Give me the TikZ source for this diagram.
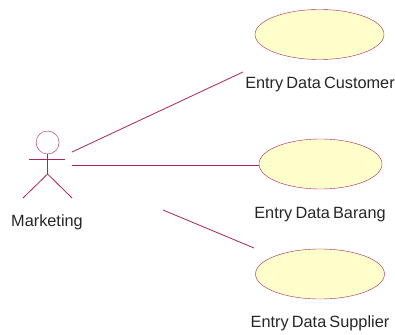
\documentclass[tikz,border=0pt]{standalone}
\usepackage{fontspec}
\setmainfont[WordSpace=0.7]{Liberation Sans}
\definecolor{umlline}{RGB}{170,35,85}
\definecolor{umlfill}{RGB}{255,255,204}
\tikzset{
usecase/.style={ellipse, draw=umlline, fill=umlfill, minimum width=129pt, minimum height=50pt, inner sep=0pt},
label/.style={font=\fontsize{16.3}{18}\selectfont, text=black!85},
assoc/.style={draw=umlline, line width=.8pt}
}
\usetikzlibrary{shapes.geometric}
\begin{document}
\begin{tikzpicture}[x=1pt,y=-1pt]
\useasboundingbox (0,0) rectangle (395,334);
\node[usecase] (customer) at (319.5,34.5) {};
\node[usecase, minimum width=123pt] (barang) at (320.5,164) {};
\node[usecase] (supplier) at (320,274) {};
\node[label] (customerlabel) at (320,85) {Entry Data Customer};
\node[label] (baranglabel) at (320,215) {Entry Data Barang};
\node[label] (supplierlabel) at (320,323) {Entry Data Supplier};
\node[label] (marketing) at (47,222) {Marketing};
% actor
\node[circle, draw=umlline, minimum size=23pt, inner sep=0pt] (head) at (47.6,142.5) {};
\coordinate (armL) at (29,159);
\coordinate (armR) at (65,159);
\coordinate (hip) at (47.6,174);
\coordinate (footL) at (23,198);
\coordinate (footR) at (72,198);
\draw[assoc] (head.south)--(hip);
\draw[assoc] (armL)--(armR);
\draw[assoc] (footL)--(hip)--(footR);
% associations
\coordinate (a1) at (72,152);
\coordinate (b1) at (243,72);
\coordinate (a2) at (72,165);
\coordinate (a3) at (163,210);
\coordinate (b3) at (254,248);
\draw[assoc] (a1)--(b1);
\draw[assoc] (a2)--(barang.west|-a2);
\draw[assoc] (a3)--(b3);
\end{tikzpicture}
\end{document}
